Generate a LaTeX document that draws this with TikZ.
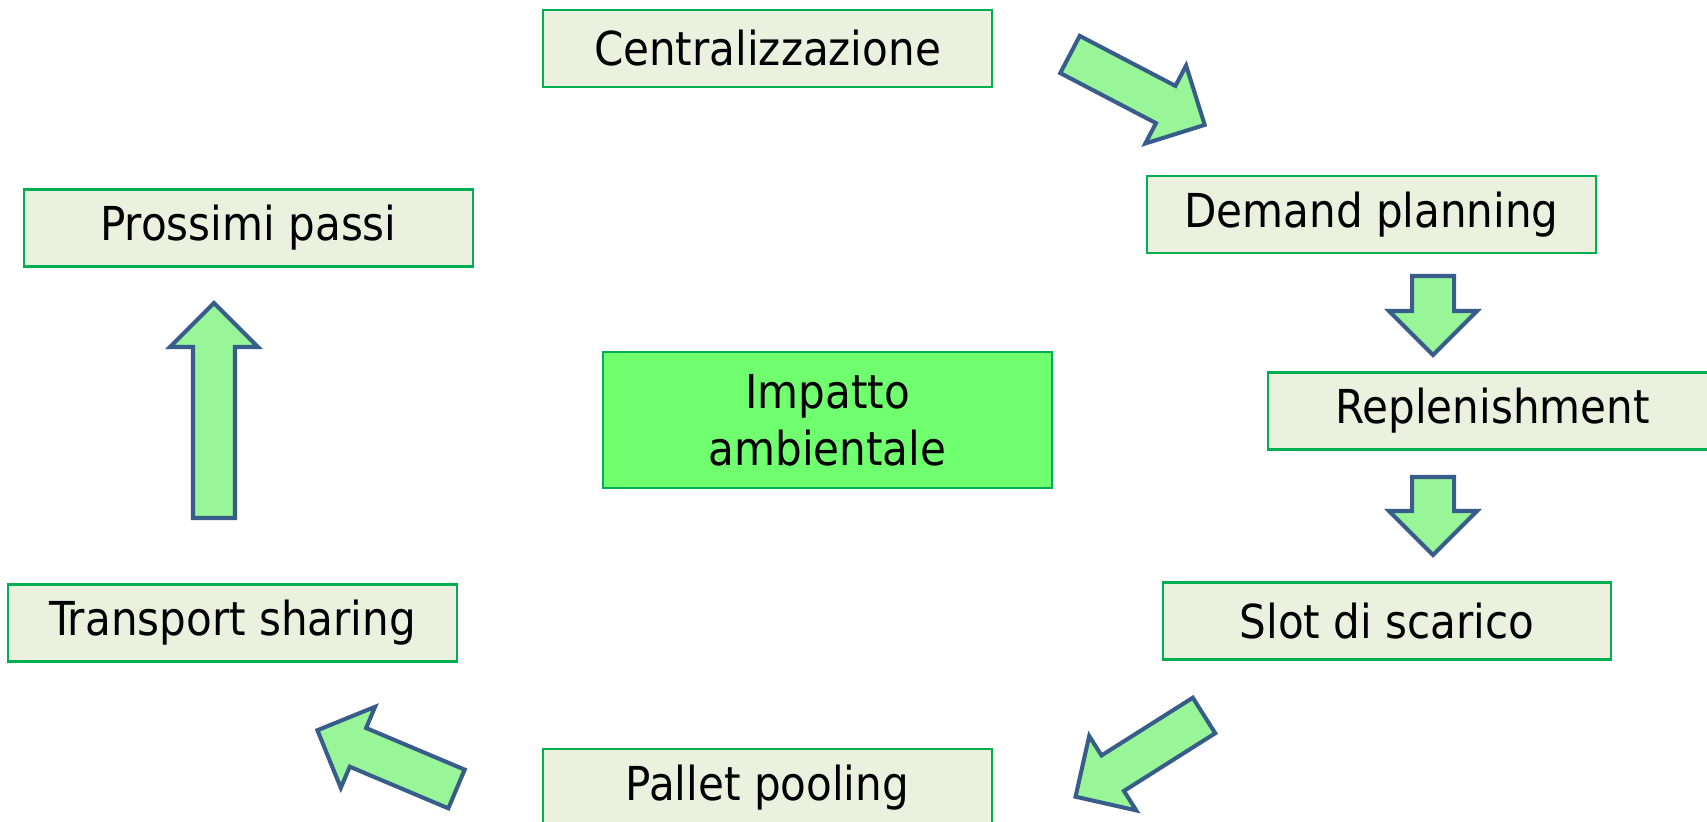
\documentclass[tikz,border=0pt]{standalone}
\usepackage{fontspec}
\setmainfont{DejaVu Sans Condensed}
\usepackage{tikz}

\definecolor{boxfill}{HTML}{EBF1DE}
\definecolor{boxline}{HTML}{00B050}
\definecolor{midfill}{HTML}{6FFF6F}
\definecolor{arrfill}{HTML}{98F598}
\definecolor{arrline}{HTML}{385D8A}

\tikzset{
  stepbox/.style={draw=boxline,fill=boxfill,line width=0.6pt,inner sep=0pt,
    minimum width=4.48cm,minimum height=0.77cm,
    font=\fontsize{13.3}{16.2}\selectfont},
  midbox/.style={stepbox,fill=midfill,minimum height=1.36cm,align=center},
  arrshape/.style={draw=arrline,fill=arrfill,line width=1.15pt,line join=miter},
  pics/blockarrow/.style={code={
    \draw[arrshape] (0,-21) -- (#1-44,-21) -- (#1-44,-44) -- (#1,0)
      -- (#1-44,44) -- (#1-44,21) -- (0,21) -- cycle;
  }}
}

\begin{document}
\begin{tikzpicture}[x=0.01cm,y=0.01cm]
\clip (0,0) rectangle (1707,822);
\fill[white] (0,0) rectangle (1707,822);
% boxes
\node[stepbox] (cen) at (767.5,773.5) {Centralizzazione};
\node[stepbox] (dem) at (1371.5,607.5) {Demand planning};
\node[stepbox] (rep) at (1492.5,411) {Replenishment};
\node[stepbox] (slot) at (1387,201) {Slot di scarico};
\node[stepbox] (pal) at (767.5,34.5) {Pallet pooling};
\node[stepbox] (tra) at (232.5,199) {Transport sharing};
\node[stepbox] (pro) at (248.5,594) {Prossimi passi};
\node[midbox] (imp) at (827.5,402) {Impatto\\ambientale};
% block arrows
\pic[rotate=-27.6] at (1070,767.5) {blockarrow=152};
\pic[rotate=-90] at (1433,546) {blockarrow=79};
\pic[rotate=-90] at (1433,345) {blockarrow=78};
\pic[rotate=212.3] at (1204,106.5) {blockarrow=152};
\pic[rotate=157.1] at (456.5,33) {blockarrow=151};
\pic[rotate=90] at (214,304) {blockarrow=215};
\end{tikzpicture}
\end{document}
